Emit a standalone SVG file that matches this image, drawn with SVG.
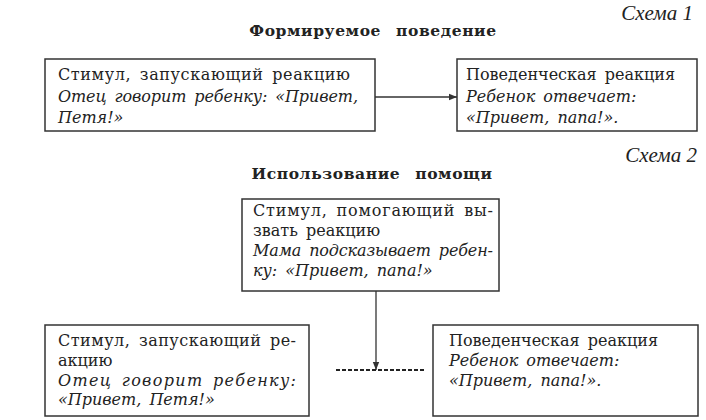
<svg xmlns="http://www.w3.org/2000/svg" width="706" height="420" viewBox="0 0 706 420">
<style>
.box{fill:none;stroke:#333;stroke-width:1.5}
.t{font-family:"DejaVu Serif","Liberation Serif",serif;font-size:16px;fill:#222;word-spacing:3px}
.i{font-style:italic}
.h{font-family:"DejaVu Serif","Liberation Serif",serif;font-size:15.5px;font-weight:bold;fill:#222;text-anchor:middle;letter-spacing:0.6px;word-spacing:9px}
.s{font-family:"Liberation Serif","DejaVu Serif",serif;font-size:21px;font-style:italic;fill:#222;text-anchor:end}
.ln{stroke:#333;stroke-width:1.3;fill:none}
.dash{stroke:#222;stroke-width:2;stroke-dasharray:4 2;fill:none}
</style>
<defs>
<marker id="ah" viewBox="0 0 10 10" refX="10" refY="5" markerWidth="8" markerHeight="8" markerUnits="userSpaceOnUse" orient="auto">
<path d="M0,1 L10,5 L0,9 z" fill="#333"/>
</marker>
</defs>
<rect width="706" height="420" fill="#fff"/>
<text class="s" x="693" y="20">Схема 1</text>
<text class="h" x="373" y="36">Формируемое поведение</text>
<text class="s" x="697" y="162">Схема 2</text>
<text class="h" x="372" y="179">Использование помощи</text>

<g id="connectors">
<line class="ln" x1="375" y1="97" x2="457" y2="97" marker-end="url(#ah)"/>
<line class="ln" x1="376" y1="291" x2="376" y2="370" marker-end="url(#ah)"/>
<line class="dash" x1="336" y1="370" x2="426" y2="370"/>
</g>

<g id="s1-stimulus">
<rect class="box" x="45" y="59" width="330" height="72"/>
<text class="t" x="58" y="80" textLength="292">Стимул, запускающий реакцию</text>
<text class="t i" x="58" y="102" textLength="300">Отец говорит ребенку: «Привет,</text>
<text class="t i" x="58" y="123">Петя!»</text>
</g>

<g id="s1-reaction">
<rect class="box" x="457" y="59" width="240" height="72"/>
<text class="t" x="466" y="80">Поведенческая реакция</text>
<text class="t i" x="466" y="102">Ребенок отвечает:</text>
<text class="t i" x="466" y="123">«Привет, папа!».</text>
</g>

<g id="s2-help">
<rect class="box" x="242" y="199" width="257" height="92"/>
<text class="t" x="253" y="216" textLength="240">Стимул, помогающий вы-</text>
<text class="t" x="253" y="236">звать реакцию</text>
<text class="t i" x="253" y="256" textLength="240">Мама подсказывает ребен-</text>
<text class="t i" x="253" y="276">ку: «Привет, папа!»</text>
</g>

<g id="s2-stimulus">
<rect class="box" x="45" y="325" width="264" height="91"/>
<text class="t" x="58" y="346" textLength="238">Стимул, запускающий ре-</text>
<text class="t" x="58" y="366">акцию</text>
<text class="t i" x="58" y="386" textLength="238">Отец говорит ребенку:</text>
<text class="t i" x="58" y="405">«Привет, Петя!»</text>
</g>

<g id="s2-reaction">
<rect class="box" x="433" y="325" width="265" height="91"/>
<text class="t" x="449" y="346">Поведенческая реакция</text>
<text class="t i" x="449" y="366">Ребенок отвечает:</text>
<text class="t i" x="449" y="386">«Привет, папа!».</text>
</g>
</svg>
